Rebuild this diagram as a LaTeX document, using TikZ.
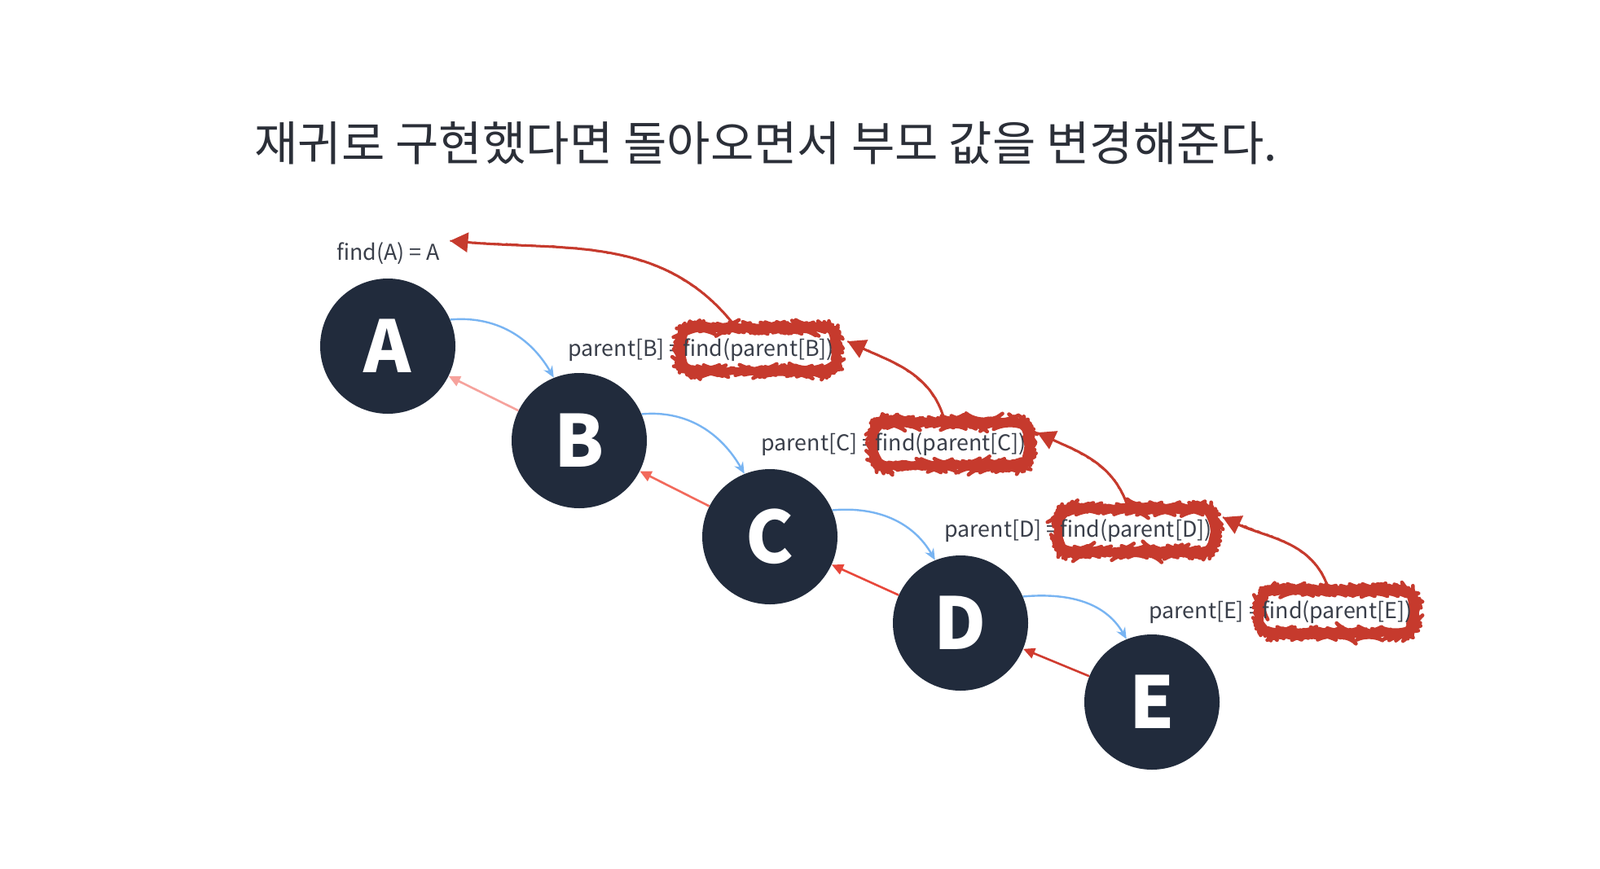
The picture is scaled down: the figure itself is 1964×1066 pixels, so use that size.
\documentclass[tikz,border=0pt]{standalone}
\usepackage{fontspec}
\setmainfont{Noto Sans CJK KR}
\usetikzlibrary{arrows.meta,decorations.pathmorphing}
\definecolor{navy}{HTML}{212B3C}
\definecolor{txt}{HTML}{3A3F4A}
\definecolor{ttl}{HTML}{2B2F38}
\definecolor{roughred}{HTML}{C63A2D}
\definecolor{blu}{HTML}{78B4F2}
\definecolor{ra}{HTML}{F6A29C}
\definecolor{rb}{HTML}{F2695B}
\definecolor{rc}{HTML}{E8473B}
\definecolor{rd}{HTML}{D03B2F}
\begin{document}
\begin{tikzpicture}[x=0.5pt,y=-0.5pt,
  circ/.style={circle, fill=navy, minimum size=83pt, inner sep=0pt, text=white,
    font=\fontsize{44}{44}\selectfont\bfseries},
  lbl/.style={inner sep=0pt, text=txt, font=\fontsize{13.4}{16}\selectfont},
  fbox/.style={lbl, inner xsep=1pt, minimum height=26.5pt, draw=roughred, line width=2.3pt,
    line join=round, rounded corners=9pt, decorate,
    decoration={random steps, segment length=1pt, amplitude=0.3pt}},
  redcurve/.style={draw=roughred, line width=1.5pt, -{Triangle[length=11pt,width=12pt]},
    postaction={draw=roughred, -, line width=1pt, line join=round, decorate,
      decoration={random steps, segment length=1.2pt, amplitude=0.35pt, post length=10pt}}},
  bluearrow/.style={draw=blu, line width=1.2pt, -{Stealth[length=7pt,width=6pt]}},
  backarrow/.style={line width=1.3pt, -{Triangle[length=7pt,width=6.5pt]}}
]
\fill[white] (0,0) rectangle (1964,1066);
\useasboundingbox (0,0) rectangle (1964,1066);

\node[font=\fontsize{29}{32}\selectfont, text=ttl] (title) at (940,176)
  {재귀로 구현했다면 돌아오면서 부모 값을 변경해준다.};

\node[circ] (A) at (476,425) {A};
\node[circ] (B) at (711,541) {B};
\node[circ] (C) at (945,659) {C};
\node[circ] (D) at (1179,765) {D};
\node[circ] (E) at (1414,862) {E};

\node[lbl, anchor=base west] (fA) at (413,319) {find(A) = A};

\node[lbl, anchor=base west] (tB) at (697,437) {parent[B] =};
\node[fbox, anchor=base west] (fB) at ([xshift=-1.5pt]tB.base east) {find(parent[B])};
\node[lbl, anchor=base west] (tC) at (934,553) {parent[C] =};
\node[fbox, anchor=base west] (fC) at ([xshift=-1.5pt]tC.base east) {find(parent[C])};
\node[lbl, anchor=base west] (tD) at (1159,659) {parent[D] =};
\node[fbox, anchor=base west] (fD) at ([xshift=-1.5pt]tD.base east) {find(parent[D])};
\node[lbl, anchor=base west] (tE) at (1410,759) {parent[E] =};
\node[fbox, anchor=base west] (fE) at ([xshift=-1.5pt]tE.base east) {find(parent[E])};

\draw[bluearrow] (A.23) to[out=5,in=120] (B.112);
\draw[bluearrow] (B.23) to[out=5,in=120] (C.112);
\draw[bluearrow] (C.23) to[out=5,in=120] (D.112);
\draw[bluearrow] (D.23) to[out=5,in=120] (E.112);

\draw[backarrow, ra] (B) -- (A);
\draw[backarrow, rb] (C) -- (B);
\draw[backarrow, rc] (D) -- (C);
\draw[backarrow, rd] (E) -- (D);

\draw[redcurve] ([xshift=-14.5pt]fB.north) to[out=128,in=-5] ([xshift=6pt,yshift=7.5pt]fA.east);
\draw[redcurve] ([xshift=-4pt]fC.north) to[out=105,in=-25] ([xshift=6pt,yshift=5pt]fB.east);
\draw[redcurve] ([xshift=-5pt]fD.north) to[out=108,in=-25] ([xshift=4.5pt,yshift=7pt]fC.east);
\draw[redcurve] ([xshift=-5.5pt]fE.north) to[out=108,in=-25] ([xshift=4.5pt,yshift=8pt]fD.east);
\end{tikzpicture}
\end{document}
